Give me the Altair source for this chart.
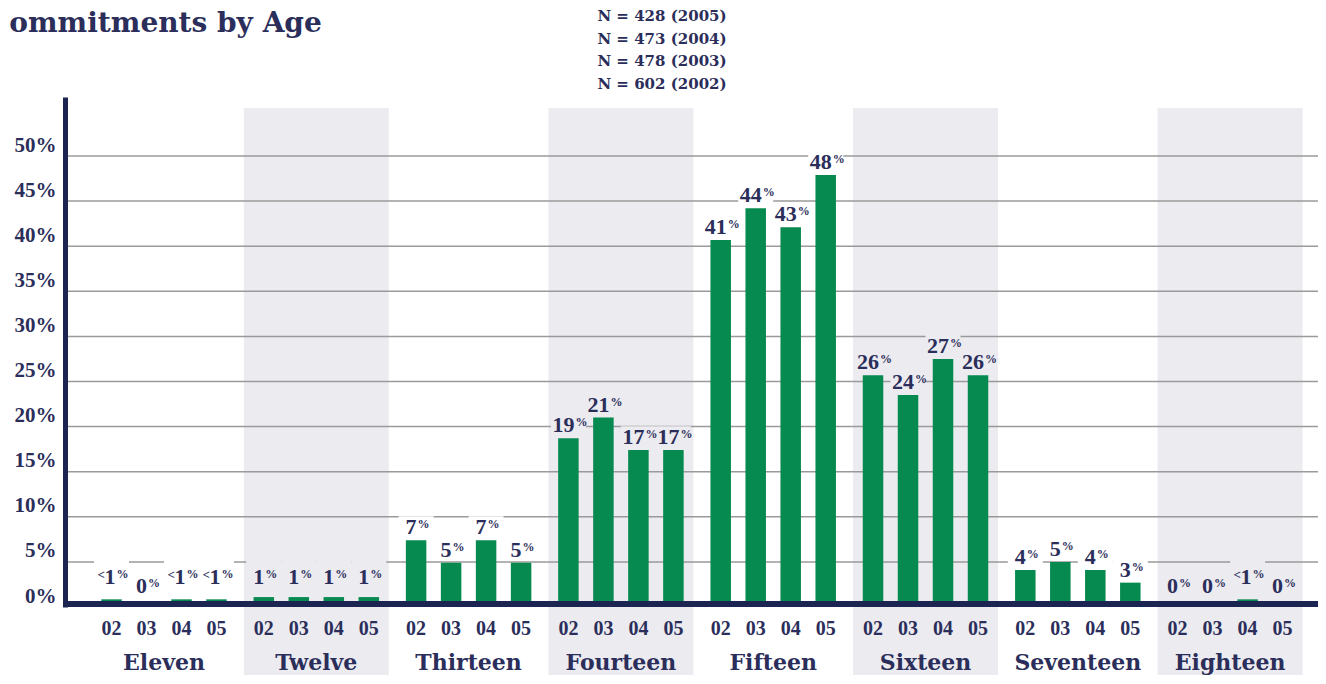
import altair as alt
import pandas as pd

# ---------------- data ----------------
ages = ["Eleven", "Twelve", "Thirteen", "Fourteen", "Fifteen", "Sixteen", "Seventeen", "Eighteen"]
years = ["02", "03", "04", "05"]

eleven = [0.85, 0.0, 0.85, 0.85]
twelve = [1.1, 1.1, 1.1, 1.1]
thirteen = [7.4, 4.9, 7.4, 4.9]
fourteen = [18.7, 21.0, 17.4, 17.4]
fifteen = [40.7, 44.2, 42.1, 47.9]
sixteen = [25.7, 23.5, 27.5, 25.7]
seventeen = [4.1, 5.0, 4.1, 2.7]
eighteen = [0.0, 0.0, 0.85, 0.0]
heights = [eleven, twelve, thirteen, fourteen, fifteen, sixteen, seventeen, eighteen]

labels_eleven = ["<1", "0", "<1", "<1"]
labels_twelve = ["1", "1", "1", "1"]
labels_thirteen = ["7", "5", "7", "5"]
labels_fourteen = ["19", "21", "17", "17"]
labels_fifteen = ["41", "44", "43", "48"]
labels_sixteen = ["26", "24", "27", "26"]
labels_seventeen = ["4", "5", "4", "3"]
labels_eighteen = ["0", "0", "<1", "0"]
labels = [labels_eleven, labels_twelve, labels_thirteen, labels_fourteen,
          labels_fifteen, labels_sixteen, labels_seventeen, labels_eighteen]

y_ticks = [0, 5, 10, 15, 20, 25, 30, 35, 40, 45, 50]
grid_values = [5, 10, 15, 20, 25, 30, 35, 40, 45, 50]
n_lines = ["N = 428 (2005)", "N = 473 (2004)", "N = 478 (2003)", "N = 602 (2002)"]
title_text = "Commitments by Age"

# ---------------- layout / style ----------------
W, H = 1253, 510
PL, PT, PR, PB = 57, 89, 0, 68
XMIN, XMAX = -0.65, 7.577
UNIT = W / (XMAX - XMIN)          # pixels per age group
YMAX = H / 9.02
SP = 35.0 / UNIT                  # bar spacing within a group
BW = 20.5 / UNIT                  # bar width
BAND_HALF = 72.5 / UNIT

NAVY = "#1c2552"
TEXT = "#2b2e5a"
GREEN = "#078a50"
BAND = "#ebebf0"
GRID = "#9a9a9a"
NUMFONT = "Liberation Serif"
WORDFONT = "DejaVu Serif"

rows = []
for gi, age in enumerate(ages):
    for j, yr in enumerate(years):
        rows.append({"g": gi, "j": j, "age": age, "year": yr,
                     "value": heights[gi][j], "label": labels[gi][j]})
bars_df = pd.DataFrame(rows)
ages_df = pd.DataFrame({"g": list(range(len(ages))), "age": ages})
grid_df = pd.DataFrame({"v": grid_values})

xs = alt.Scale(domain=[XMIN, XMAX], nice=False, zero=False)
ys = alt.Scale(domain=[0, YMAX], nice=False, zero=True)

yaxis = alt.Axis(values=y_ticks, title="", ticks=False, grid=False,
                 domainColor=NAVY, domainWidth=5,
                 labelExpr="datum.value + '%'",
                 labelFont=NUMFONT, labelFontWeight="bold", labelFontSize=21,
                 labelColor=TEXT, labelPadding=9, labelBaseline="alphabetic",
                 labelOffset=-5, labelFlush=False, labelOverlap=False,
                 zindex=2)


def Y(field):
    return alt.Y(field, scale=ys, axis=yaxis)


def X(field):
    return alt.X(field, scale=xs, axis=None)


base = alt.Chart(bars_df).transform_calculate(
    xc=f"datum.g + (datum.j - 1.5) * {SP}",
).transform_calculate(
    x1=f"datum.xc - {BW / 2}",
    x2=f"datum.xc + {BW / 2}",
    pre="indexof(datum.label, '<') == 0 ? '<' : ''",
    num="replace(datum.label, '<', '')",
).transform_calculate(
    wpre="datum.pre == '' ? 0 : 7",
    wnum="length(datum.num) * 11",
).transform_calculate(
    tot="datum.wpre + datum.wnum + 10",
).transform_calculate(
    xs=f"datum.xc - datum.tot / 2 / {UNIT}",
    ly="datum.value == 0 ? 1.5 : max(datum.value + 0.65, 2.6)",
).transform_calculate(
    xnum=f"datum.xs + datum.wpre / {UNIT}",
    xpct=f"datum.xs + (datum.wpre + datum.wnum) / {UNIT}",
    bx1=f"datum.xc - {SP / 2}",
    bx2=f"datum.xc + {SP / 2}",
    by1="datum.ly - 0.4",
    by2="datum.value == 0 ? datum.ly + 2.0 : max(datum.ly + 2.0, 5.5)",
)

# background bands for alternating age groups
bands = alt.Chart(ages_df).transform_filter("datum.g % 2 == 1").transform_calculate(
    bx1=f"datum.g - {BAND_HALF}", bx2=f"datum.g + {BAND_HALF}"
).mark_rect(color=BAND).encode(
    x=X("bx1:Q"), x2="bx2:Q",
    y=alt.value(11), y2=alt.value(H + PB),
)

grid = alt.Chart(grid_df).mark_rule(color=GRID, strokeWidth=1.5).encode(
    y=Y("v:Q"), x=alt.value(0), x2=alt.value(W),
)

label_bg = base.mark_rect().encode(
    x=X("bx1:Q"), x2="bx2:Q",
    y=Y("by1:Q"), y2="by2:Q",
    color=alt.condition("datum.g % 2 == 1", alt.value(BAND), alt.value("white")),
)

bars = base.mark_rect(color=GREEN).encode(
    x=X("x1:Q"), x2="x2:Q",
    y=Y("value:Q"), y2=alt.datum(0),
)

baseline = alt.Chart(ages_df).mark_rule(color=NAVY, strokeWidth=6).encode(
    x=alt.value(0), x2=alt.value(W), y=alt.value(H - 3)
)

lab_num = base.mark_text(font=NUMFONT, fontWeight="bold", fontSize=22, color=TEXT,
                         align="left", baseline="alphabetic").encode(
    x=X("xnum:Q"), y=Y("ly:Q"), text="num:N",
)
lab_pct = base.mark_text(font=NUMFONT, fontWeight="bold", fontSize=12, color=TEXT,
                         align="left", baseline="alphabetic", dx=1, dy=-6).encode(
    x=X("xpct:Q"), y=Y("ly:Q"), text=alt.value("%"),
)
lab_pre = base.transform_filter("datum.pre != ''").mark_text(
    font=NUMFONT, fontWeight="bold", fontSize=13, color=TEXT,
    align="left", baseline="alphabetic", dy=-5).encode(
    x=X("xs:Q"), y=Y("ly:Q"), text="pre:N",
)

year_lab = base.mark_text(font=NUMFONT, fontWeight="bold", fontSize=20, color=TEXT,
                          align="center", baseline="alphabetic").encode(
    x=X("xc:Q"), y=alt.value(H + 28), text="year:N",
)

age_lab = alt.Chart(ages_df).mark_text(font=WORDFONT, fontWeight="bold", fontSize=22,
                                       color=TEXT, align="center",
                                       baseline="alphabetic").encode(
    x=X("g:Q"), y=alt.value(H + 63), text="age:N",
)

n_text = alt.Chart(ages_df).transform_filter("datum.g == 0").mark_text(
    text=n_lines, font=WORDFONT, fontWeight="bold", fontSize=15, color=TEXT,
    align="center", baseline="top", lineHeight=22.5).encode(
    x=alt.value(597), y=alt.value(-88),
)

title = alt.Chart(ages_df).transform_filter("datum.g == 0").mark_text(
    text=title_text, font=WORDFONT, fontWeight="bold", fontSize=28, color=TEXT,
    align="left", baseline="alphabetic").encode(
    x=alt.value(-78), y=alt.value(-65),
)

chart = alt.layer(
    bands, grid, label_bg, bars, baseline, lab_num, lab_pct, lab_pre,
    year_lab, age_lab, n_text, title,
).properties(
    width=W, height=H,
    padding={"left": PL, "top": PT, "right": PR, "bottom": PB},
    autosize=alt.AutoSizeParams(type="none"),
).configure(background="white").configure_view(strokeWidth=0, stroke="transparent")

chart.save("out.html", embed_options={"renderer": "svg", "actions": False})
